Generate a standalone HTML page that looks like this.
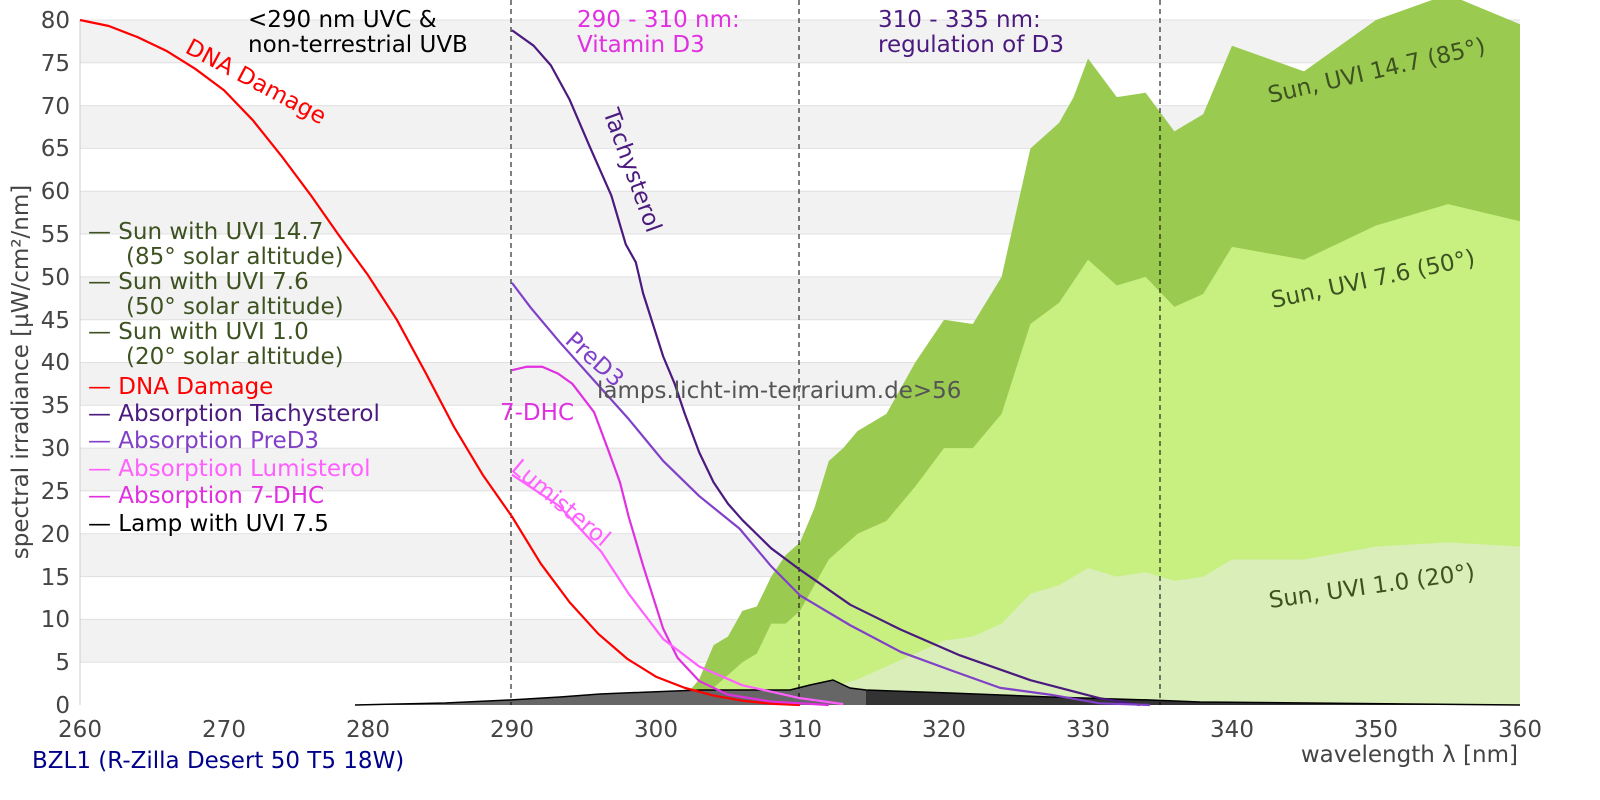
<!DOCTYPE html>
<html><head><meta charset="utf-8"><style>
body{margin:0;background:#fff;width:1600px;height:800px;overflow:hidden}
svg{font-family:"DejaVu Sans","Liberation Sans",sans-serif;display:block}
</style></head><body>
<svg width="1600" height="800" viewBox="0 0 1600 800" xmlns="http://www.w3.org/2000/svg">
<rect width="1600" height="800" fill="#fff"/>
<g fill="#f2f2f2">
<rect x="80" y="20" width="1440" height="42.8"/>
<rect x="80" y="105.6" width="1440" height="42.8"/>
<rect x="80" y="191.2" width="1440" height="42.8"/>
<rect x="80" y="276.9" width="1440" height="42.8"/>
<rect x="80" y="362.5" width="1440" height="42.8"/>
<rect x="80" y="448.1" width="1440" height="42.8"/>
<rect x="80" y="533.8" width="1440" height="42.8"/>
<rect x="80" y="619.4" width="1440" height="42.8"/>
</g>
<g stroke="#e0e0e0" stroke-width="1">
<line x1="80" x2="1520" y1="62.8" y2="62.8"/><line x1="80" x2="1520" y1="105.6" y2="105.6"/>
<line x1="80" x2="1520" y1="148.4" y2="148.4"/><line x1="80" x2="1520" y1="191.2" y2="191.2"/>
<line x1="80" x2="1520" y1="234" y2="234"/><line x1="80" x2="1520" y1="276.9" y2="276.9"/>
<line x1="80" x2="1520" y1="319.7" y2="319.7"/><line x1="80" x2="1520" y1="362.5" y2="362.5"/>
<line x1="80" x2="1520" y1="405.3" y2="405.3"/><line x1="80" x2="1520" y1="448.1" y2="448.1"/>
<line x1="80" x2="1520" y1="490.9" y2="490.9"/><line x1="80" x2="1520" y1="533.8" y2="533.8"/>
<line x1="80" x2="1520" y1="576.6" y2="576.6"/><line x1="80" x2="1520" y1="619.4" y2="619.4"/>
<line x1="80" x2="1520" y1="662.2" y2="662.2"/><line x1="80" x2="1520" y1="20" y2="20"/>
<line x1="80" x2="80" y1="20" y2="705" stroke="#ccc"/>
</g>
<g transform="translate(80,705) scale(14.4,-8.5625) translate(-260,0)">
<polygon fill="#9acb50" points="300,0 302,1 303,3 304,7 305,8 306,11 307,11.5 308,15 309,17.5 310,19 311,23 312,28.5 313,30 314,32 316,34 318,40 320,45 322,44.5 324,50 326,65 328,68 329,71 330,75.5 332,71 334,71.5 336,67 338,69 340,77 345,74 350,80 355,83 360,79.5 360,0"/>
<polygon fill="#c8f080" points="301,0 304,2 306,5 307,6 308,9.5 309,9.5 310,11 312,17 314,20 316,21.5 318,25.5 320,30 322,30 324,34 326,44.5 328,47 330,52 332,49 334,50 336,46.5 338,48 340,53.5 345,52 350,56 355,58.5 360,56.5 360,0"/>
<polygon fill="#d9eeb8" points="305,0 310,1 312,2 314,3 316,4.5 318,6 320,7.5 322,8 324,9.5 326,13 328,14 330,16 332,15 334,15.5 336,14.5 338,15 340,17 345,17 350,18.5 355,19 360,18.5 360,0"/>
</g>
<polygon fill="#666" points="355,705 445,703 510,700 560,697 600,694 650,692 700,690 790,690 810,685 833,680 850,688 866,690 866,705"/>
<polygon fill="#333" points="866,705 866,690 950,693 1050,697 1150,700 1200,702 1520,705"/>
<polyline fill="none" stroke="#000" stroke-width="1.5" points="355,705 445,703 510,700 560,697 600,694 650,692 700,690 790,690 810,685 833,680 850,688 866,690 950,693 1050,697 1150,700 1200,702 1520,705"/>
<g stroke-dasharray="5,4" stroke="#000" stroke-width="1">
<line x1="511" x2="511" y1="0" y2="705"/><line x1="799" x2="799" y1="0" y2="705"/><line x1="1160" x2="1160" y1="0" y2="705"/>
</g>
<g transform="translate(80,705) scale(14.4,-8.5625) translate(-260,0)" fill="none" stroke-linejoin="round">
<polyline vector-effect="non-scaling-stroke" stroke-width="2.2" stroke="#f00" points="260,80 262,79.3 264,78 266,76.4 268,74.3 270,71.8 272,68.3 274,64.1 276,59.6 278,54.8 280,50.2 282,45 284,38.8 286,32.4 288,26.8 290,22 292,16.5 294,12 296,8.3 298,5.4 300,3.3 302,2 304,1.1 306,0.5 308,0.15 310,0"/>
<polyline vector-effect="non-scaling-stroke" stroke-width="2.2" stroke="#4b1a7f" points="290,78.8 291.5,77 292.7,74.7 294,70.7 295.4,65.2 296.9,59.5 297.9,53.8 298.6,51.7 299.1,48.1 300.5,40.7 301.3,37.5 302,34 303,29.5 304,26 305,23.5 306,21.6 308,18.3 310,15.8 313.5,11.7 317,8.8 321.1,5.8 326,2.9 330.8,0.8 333.6,0"/>
<polyline vector-effect="non-scaling-stroke" stroke-width="2.2" stroke="#8040c8" points="290,49.3 291.3,46.4 293.3,42.4 295.7,37.9 298.1,33.4 300.5,28.5 303,24.4 305.8,20.6 308,16.2 310,12.8 313.5,9.3 317,6.2 320.4,4.1 323.9,2 327.4,1.2 330.8,0.2 334.3,0"/>
<polyline vector-effect="non-scaling-stroke" stroke-width="2.2" stroke="#e030e0" points="290,39.1 291,39.5 292.1,39.5 293.2,38.7 294.2,37.5 295.7,34.2 296.7,29.7 297.5,26 298.1,22 299.1,16.3 300.5,8.9 301.5,5.5 303,2.8 305,1.2 308,0.4 312,0"/>
<polyline vector-effect="non-scaling-stroke" stroke-width="2.2" stroke="#ff60ff" points="290,26.9 293.3,23.2 296.2,17.9 298.1,13 300.5,7.7 303,4.5 306,2.3 310,0.8 313,0.1"/>
</g>
<g font-size="23" fill="#444" text-anchor="end">
<text x="70" y="28">80</text><text x="70" y="71">75</text><text x="70" y="114">70</text><text x="70" y="156">65</text><text x="70" y="199">60</text><text x="70" y="242">55</text><text x="70" y="285">50</text><text x="70" y="328">45</text><text x="70" y="370">40</text><text x="70" y="413">35</text><text x="70" y="456">30</text><text x="70" y="499">25</text><text x="70" y="542">20</text><text x="70" y="585">15</text><text x="70" y="627">10</text><text x="70" y="670">5</text><text x="70" y="713">0</text>
</g>
<g font-size="23" fill="#444" text-anchor="middle">
<text x="80" y="737">260</text><text x="224" y="737">270</text><text x="368" y="737">280</text><text x="512" y="737">290</text><text x="656" y="737">300</text><text x="800" y="737">310</text><text x="944" y="737">320</text><text x="1088" y="737">330</text><text x="1232" y="737">340</text><text x="1376" y="737">350</text><text x="1520" y="737">360</text>
</g>
<text x="1518" y="762" font-size="23" fill="#444" text-anchor="end">wavelength λ [nm]</text>
<text x="32" y="768" font-size="23" fill="#00008b">BZL1 (R-Zilla Desert 50 T5 18W)</text>
<text transform="translate(28,372) rotate(-90)" font-size="23" fill="#444" text-anchor="middle">spectral irradiance [µW/cm²/nm]</text>
<g font-size="23">
<text x="248" y="27" fill="#000">&lt;290 nm UVC &amp;</text>
<text x="248" y="52" fill="#000">non-terrestrial UVB</text>
<text x="577" y="27" fill="#e030e0">290 - 310 nm:</text>
<text x="577" y="52" fill="#e030e0">Vitamin D3</text>
<text x="878" y="27" fill="#4b1a7f">310 - 335 nm:</text>
<text x="878" y="52" fill="#4b1a7f">regulation of D3</text>
</g>
<g font-size="23">
<text x="88" y="239" fill="#3d5220">— Sun with UVI 14.7</text>
<text x="126" y="264" fill="#3d5220">(85° solar altitude)</text>
<text x="88" y="289" fill="#3d5220">— Sun with UVI 7.6</text>
<text x="126" y="314" fill="#3d5220">(50° solar altitude)</text>
<text x="88" y="339" fill="#3d5220">— Sun with UVI 1.0</text>
<text x="126" y="364" fill="#3d5220">(20° solar altitude)</text>
<text x="88" y="394" fill="#f00">— DNA Damage</text>
<text x="88" y="421" fill="#4b1a7f">— Absorption Tachysterol</text>
<text x="88" y="448" fill="#8040c8">— Absorption PreD3</text>
<text x="88" y="476" fill="#ff60ff">— Absorption Lumisterol</text>
<text x="88" y="503" fill="#e030e0">— Absorption 7-DHC</text>
<text x="88" y="531" fill="#000">— Lamp with UVI 7.5</text>
</g>
<text x="597" y="398" font-size="23" fill="#555">lamps.licht-im-terrarium.de&gt;56</text>
<g font-size="23">
<text transform="translate(184,52) rotate(28)" fill="#f00">DNA Damage</text>
<text transform="translate(603,112) rotate(70)" fill="#4b1a7f">Tachysterol</text>
<text transform="translate(564,342) rotate(42)" fill="#8040c8">PreD3</text>
<text x="500" y="420" fill="#e030e0">7-DHC</text>
<text transform="translate(510,470) rotate(40)" fill="#ff60ff">Lumisterol</text>
<text transform="translate(1270,103) rotate(-13)" fill="#3d5220">Sun, UVI 14.7 (85°)</text>
<text transform="translate(1273,308) rotate(-12)" fill="#3d5220">Sun, UVI 7.6 (50°)</text>
<text transform="translate(1270,608) rotate(-8)" fill="#3d5220">Sun, UVI 1.0 (20°)</text>
</g>
</svg>
</body></html>
